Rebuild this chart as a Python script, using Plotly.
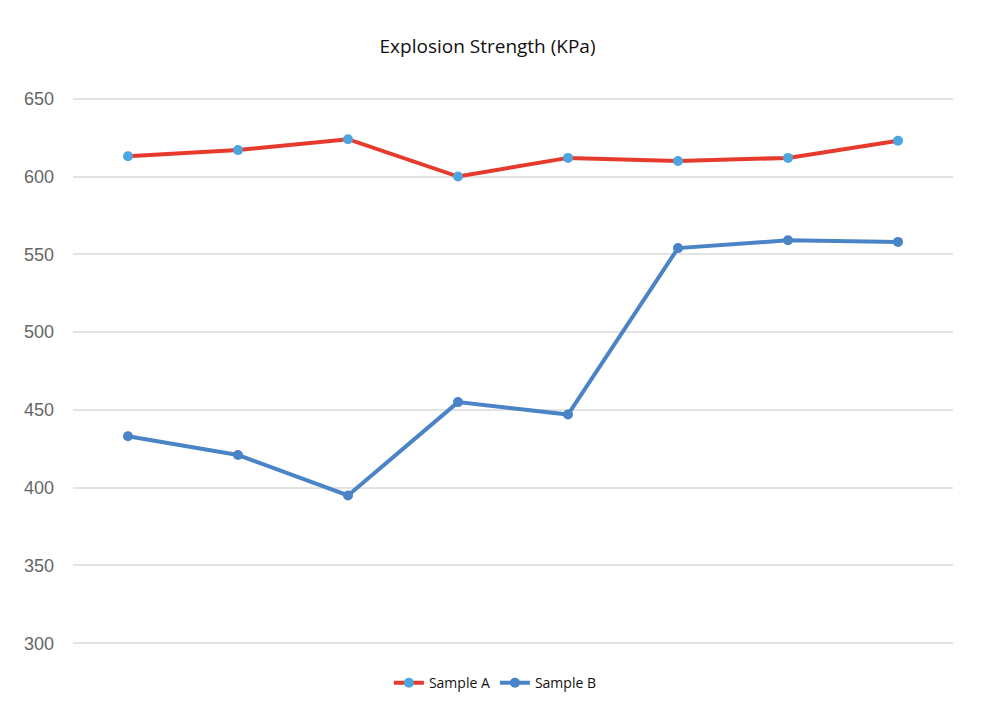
import plotly.graph_objects as go

categories = ["1", "2", "3", "4", "5", "6", "7", "8"]
sample_a = [613, 617, 624, 600, 612, 610, 612, 623]
sample_b = [433, 421, 395, 455, 447, 554, 559, 558]
y_ticks = [300, 350, 400, 450, 500, 550, 600, 650]

fig = go.Figure()
fig.add_trace(go.Scatter(
    x=categories, y=sample_a, name="Sample A", mode="lines+markers",
    line=dict(color="#e53a2c", width=4),
    marker=dict(color="#4ea6e0", size=10),
))
fig.add_trace(go.Scatter(
    x=categories, y=sample_b, name="Sample B", mode="lines+markers",
    line=dict(color="#4a84c6", width=4),
    marker=dict(color="#4a84c6", size=10),
))

fig.update_layout(
    width=995, height=708,
    paper_bgcolor="white", plot_bgcolor="white",
    margin=dict(l=73, r=42, t=91, b=57, autoexpand=False),
    title=dict(text="Explosion Strength (KPa)", x=0.49, xanchor="center", y=0.935, yanchor="middle",
               font=dict(family="Open Sans", size=19, color="#111")),
    xaxis=dict(type="category", range=[-0.5, 7.5], showticklabels=False, showgrid=False,
               zeroline=False, showline=False),
    yaxis=dict(range=[295, 655], tickvals=y_ticks, showgrid=True, gridcolor="#e3e3e3", gridwidth=2,
               zeroline=False, showline=False, ticklabelstandoff=18,
               tickfont=dict(family="Liberation Sans", size=18, color="#666")),
    legend=dict(orientation="h", x=0.48, xanchor="center", yref="container", y=0.035, yanchor="middle",
                font=dict(family="Open Sans", size=14, color="#111")),
    showlegend=True,
)

fig.write_html("out.html")
